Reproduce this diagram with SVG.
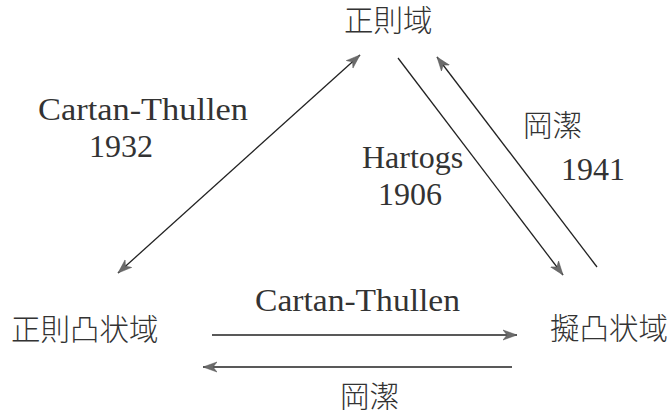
<svg xmlns="http://www.w3.org/2000/svg" width="672" height="414" viewBox="0 0 672 414">
<defs>
<style>
.lat{font-family:"Liberation Serif","DejaVu Serif",serif;font-size:32px;fill:#333;}
.cjk{font-family:"Noto Sans CJK JP","Noto Sans CJK SC",sans-serif;font-size:29.5px;fill:#333;font-weight:300;}
.edge{stroke:#222;stroke-width:1.3;fill:none;}
</style>
<marker id="ah" markerUnits="userSpaceOnUse" markerWidth="16" markerHeight="12" viewBox="-14 -6 16 12" refX="0" refY="0" orient="auto-start-reverse">
<path d="M0,0 L-14,-5 L-10,0 L-14,5 Z" fill="#6b6b6b" stroke="#555" stroke-width="0.5"/>
</marker>
</defs>
<rect width="672" height="414" fill="#fff"/>
<g id="connectors">
<line class="edge" x1="118" y1="273" x2="360" y2="55" marker-start="url(#ah)" marker-end="url(#ah)"/>
<line class="edge" x1="398" y1="58" x2="563" y2="275" marker-end="url(#ah)"/>
<line class="edge" x1="597" y1="267" x2="437" y2="57" marker-end="url(#ah)"/>
<line class="edge" x1="212" y1="335" x2="517" y2="335" marker-end="url(#ah)"/>
<line class="edge" x1="512" y1="367" x2="203" y2="367" marker-end="url(#ah)"/>
</g>
<g id="labels">
<text class="lat" x="38" y="120" textLength="210" lengthAdjust="spacingAndGlyphs">Cartan-Thullen</text>
<text class="lat" x="89" y="157">1932</text>
<text class="lat" x="362" y="168">Hartogs</text>
<text class="lat" x="378" y="205">1906</text>
<text class="cjk" x="523" y="136">岡潔</text>
<text class="lat" x="561" y="180">1941</text>
<text class="lat" x="255" y="311" textLength="205" lengthAdjust="spacingAndGlyphs">Cartan-Thullen</text>
<text class="cjk" x="340" y="407">岡潔</text>
</g>
<g id="node-seisokuiki"><text class="cjk" x="344" y="31">正則域</text></g>
<g id="node-seisokutotsujoiki"><text class="cjk" x="11" y="340">正則凸状域</text></g>
<g id="node-gitotsujoiki"><text class="cjk" x="550" y="339">擬凸状域</text></g>
</svg>
